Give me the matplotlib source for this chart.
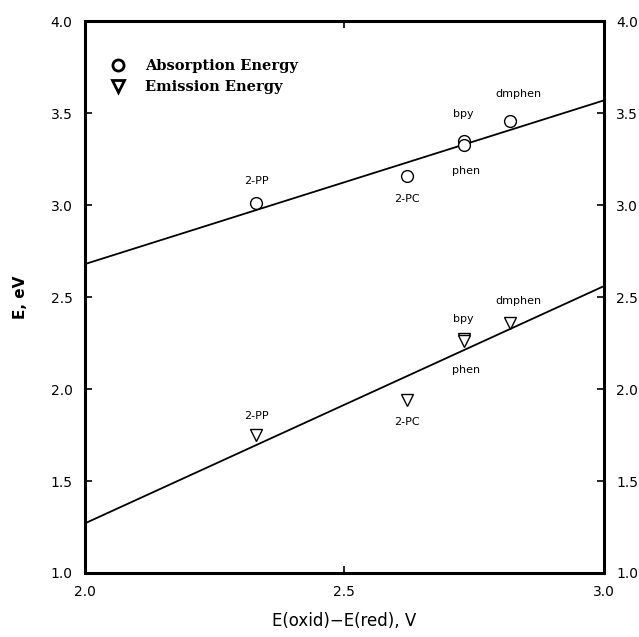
"""
Absorption / emission energy vs E(oxid)-E(red) for the complexes.
"""
import matplotlib
matplotlib.use("Agg")
import matplotlib.pyplot as plt
from matplotlib.lines import Line2D

# valeurs
complexes = ['2-PP', '2-PC', 'bpy', 'phen', 'dmphen']
delta_E = [2.33, 2.62, 2.73, 2.73, 2.82]
abs_energy = [3.01, 3.16, 3.35, 3.33, 3.46]
em_energy = [1.75, 1.94, 2.27, 2.26, 2.36]

# droites de regression (extremites lues)
fit_x = [2.0, 3.0]
abs_fit = [2.68, 3.57]
em_fit = [1.27, 2.56]

x_ticks = [2.0, 2.5, 3.0]
y_ticks = [1.0, 1.5, 2.0, 2.5, 3.0, 3.5, 4.0]

# decalage des etiquettes (points)
abs_offsets = [(0, 16), (0, -17), (0, 19), (2, -19), (6, 19)]
em_offsets = [(0, 14), (0, -16), (0, 15), (2, -21), (6, 16)]

fig = plt.figure(figsize=(6.39, 6.37), dpi=100)
ax = fig.add_axes([0.133, 0.1005, 0.812, 0.866])

ax.plot(fit_x, abs_fit, color='black', lw=1.3)
ax.plot(fit_x, em_fit, color='black', lw=1.3)

ax.plot(delta_E, abs_energy, 'o', ms=8.5, mfc='white', mec='black', mew=1.0, ls='none')
ax.plot(delta_E, em_energy, 'v', ms=9, mfc='white', mec='black', mew=1.0, ls='none')

for name, x, y, off in zip(complexes, delta_E, abs_energy, abs_offsets):
    ax.annotate(name, (x, y), xytext=off, textcoords='offset points',
                ha='center', va='center', fontsize=8)
for name, x, y, off in zip(complexes, delta_E, em_energy, em_offsets):
    ax.annotate(name, (x, y), xytext=off, textcoords='offset points',
                ha='center', va='center', fontsize=8)

ax.set_xlim(2.0, 3.0)
ax.set_ylim(1.0, 4.0)
ax.set_xticks(x_ticks)
ax.set_yticks(y_ticks)
ax.set_xticklabels([f"{t:.1f}" for t in x_ticks])
ax.set_yticklabels([f"{t:.1f}" for t in y_ticks])
ax.tick_params(direction='in', length=5, width=1.2, top=True, right=True,
               labelright=True, labelsize=10, pad=9)

for sp in ax.spines.values():
    sp.set_linewidth(2.2)

ax.set_xlabel('E(oxid)−E(red), V', fontsize=12, labelpad=9)
ax.set_ylabel('E, eV', fontsize=11, fontweight='bold', labelpad=16)

# legende
handles = [
    Line2D([], [], marker='o', ls='none', ms=8, mfc='white', mec='black', mew=2.0),
    Line2D([], [], marker='v', ls='none', ms=8.5, mfc='white', mec='black', mew=2.0),
]
ax.legend(handles, ['Absorption Energy', 'Emission Energy'], loc='upper left',
          bbox_to_anchor=(0.025, 0.942), frameon=False, handletextpad=0.8,
          labelspacing=0.45, borderaxespad=0,
          prop={'family': 'DejaVu Serif', 'size': 10.5, 'weight': 'bold'})

fig.savefig('out.png', dpi=100)
